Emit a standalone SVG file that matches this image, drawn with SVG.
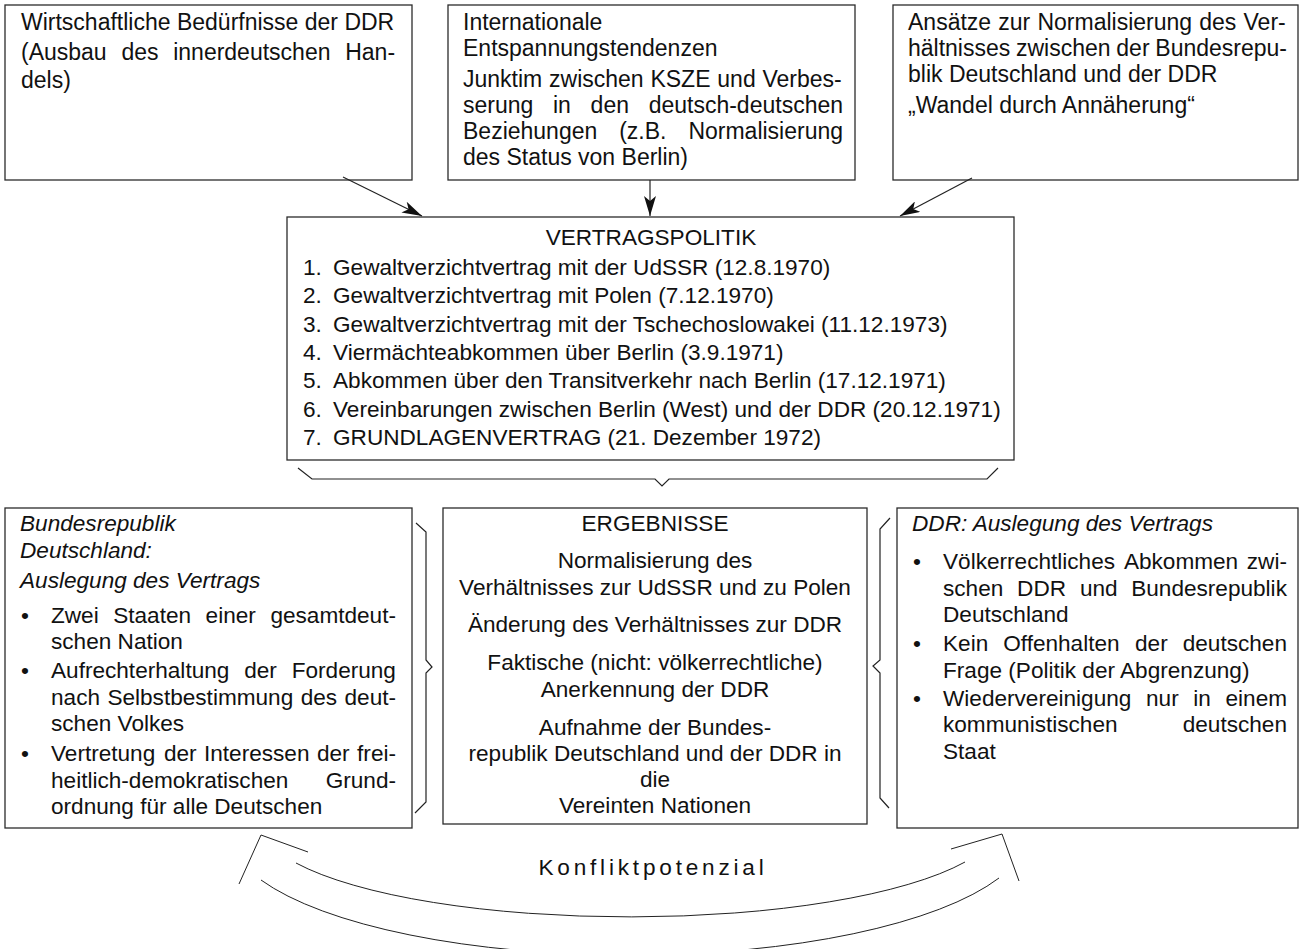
<svg xmlns="http://www.w3.org/2000/svg" width="1303" height="949" viewBox="0 0 1303 949">
<defs>
<style>
.box{fill:#fff;stroke:#2b2b2b;stroke-width:1.3}
.t{font-family:"Liberation Sans",Arial,Helvetica,sans-serif;font-size:22.6px;fill:#111}
.tt{font-size:23px}
.i{font-style:italic}
.c{text-anchor:middle}
.ln{fill:none;stroke:#222;stroke-width:1.2}
.th{fill:none;stroke:#222;stroke-width:1}
</style>
<marker id="ah" viewBox="0 0 20 12" refX="20" refY="6" markerWidth="20" markerHeight="12" markerUnits="userSpaceOnUse" orient="auto">
<path d="M0,0 L20,6 L0,12 L5,6 Z" fill="#111"/>
</marker>
</defs>
<rect width="1303" height="949" fill="#fff"/>

<g id="n-top-1">
<rect class="box" x="5" y="5" width="407" height="175"/>
<text class="t tt" x="21" y="30">Wirtschaftliche Bedürfnisse der DDR</text>
<text class="t tt" y="60"><tspan x="21">(Ausbau</tspan><tspan x="121.4">des</tspan><tspan x="173.2">innerdeutschen</tspan><tspan x="345.2">Han-</tspan></text>
<text class="t tt" x="21" y="88">dels)</text>
</g>

<g id="n-top-2">
<rect class="box" x="448" y="5" width="407" height="175"/>
<text class="t tt" x="463" y="30">Internationale</text>
<text class="t tt" x="463" y="56">Entspannungstendenzen</text>
<text class="t tt" y="87"><tspan x="463">Junktim</tspan><tspan x="549.05">zwischen</tspan><tspan x="650.44">KSZE</tspan><tspan x="717.33">und</tspan><tspan x="762.5">Verbes-</tspan></text>
<text class="t tt" y="113"><tspan x="463">serung</tspan><tspan x="553.01">in</tspan><tspan x="590.6">den</tspan><tspan x="648.66">deutsch-deutschen</tspan></text>
<text class="t tt" y="139"><tspan x="463">Beziehungen</tspan><tspan x="619.17">(z.B.</tspan><tspan x="688.38">Normalisierung</tspan></text>
<text class="t tt" x="463" y="165">des Status von Berlin)</text>
</g>

<g id="n-top-3">
<rect class="box" x="893" y="5" width="405" height="175"/>
<text class="t tt" y="30"><tspan x="908">Ansätze</tspan><tspan x="998.3">zur</tspan><tspan x="1037.45">Normalisierung</tspan><tspan x="1199.28">des</tspan><tspan x="1243.56">Ver-</tspan></text>
<text class="t tt" y="56"><tspan x="908">hältnisses</tspan><tspan x="1016.01">zwischen</tspan><tspan x="1116.34">der</tspan><tspan x="1155.33">Bundesrepu-</tspan></text>
<text class="t tt" x="908" y="82">blik Deutschland und der DDR</text>
<text class="t tt" x="908" y="113">„Wandel durch Annäherung“</text>
</g>

<g id="n-vertragspolitik">
<rect class="box" x="287" y="217" width="727" height="243"/>
<text class="t c" x="651" y="245">VERTRAGSPOLITIK</text>
<text class="t" y="275"><tspan x="303">1.</tspan><tspan x="333">Gewaltverzichtvertrag mit der UdSSR (12.8.1970)</tspan></text>
<text class="t" y="303"><tspan x="303">2.</tspan><tspan x="333">Gewaltverzichtvertrag mit Polen (7.12.1970)</tspan></text>
<text class="t" y="331.5"><tspan x="303">3.</tspan><tspan x="333">Gewaltverzichtvertrag mit der Tschechoslowakei (11.12.1973)</tspan></text>
<text class="t" y="360"><tspan x="303">4.</tspan><tspan x="333">Viermächteabkommen über Berlin (3.9.1971)</tspan></text>
<text class="t" y="388"><tspan x="303">5.</tspan><tspan x="333">Abkommen über den Transitverkehr nach Berlin (17.12.1971)</tspan></text>
<text class="t" y="416.5"><tspan x="303">6.</tspan><tspan x="333">Vereinbarungen zwischen Berlin (West) und der DDR (20.12.1971)</tspan></text>
<text class="t" y="445"><tspan x="303">7.</tspan><tspan x="333">GRUNDLAGENVERTRAG (21. Dezember 1972)</tspan></text>
</g>

<g id="n-brd">
<rect class="box" x="5" y="508" width="407" height="320"/>
<text class="t i" x="20" y="531">Bundesrepublik</text>
<text class="t i" x="20" y="558">Deutschland:</text>
<text class="t i" x="20" y="588">Auslegung des Vertrags</text>
<text class="t" x="21" y="623">•</text>
<text class="t" y="623"><tspan x="51">Zwei</tspan><tspan x="113.2">Staaten</tspan><tspan x="205.6">einer</tspan><tspan x="270.4">gesamtdeut-</tspan></text>
<text class="t" x="51" y="649">schen Nation</text>
<text class="t" x="21" y="678">•</text>
<text class="t" y="678"><tspan x="51">Aufrechterhaltung</tspan><tspan x="244.2">der</tspan><tspan x="291.7">Forderung</tspan></text>
<text class="t" y="705"><tspan x="51">nach</tspan><tspan x="107.4">Selbstbestimmung</tspan><tspan x="300.7">des</tspan><tspan x="344.5">deut-</tspan></text>
<text class="t" x="51" y="731">schen Volkes</text>
<text class="t" x="21" y="761">•</text>
<text class="t" y="761"><tspan x="51">Vertretung</tspan><tspan x="163.9">der</tspan><tspan x="204">Interessen</tspan><tspan x="316.9">der</tspan><tspan x="357.1">frei-</tspan></text>
<text class="t" y="787.5"><tspan x="51">heitlich-demokratischen</tspan><tspan x="325.7">Grund-</tspan></text>
<text class="t" x="51" y="814">ordnung für alle Deutschen</text>
</g>

<g id="n-ergebnisse">
<rect class="box" x="443" y="508" width="424" height="316"/>
<text class="t c" x="655" y="531">ERGEBNISSE</text>
<text class="t c" x="655" y="568">Normalisierung des</text>
<text class="t c" x="655" y="595">Verhältnisses zur UdSSR und zu Polen</text>
<text class="t c" x="655" y="632">Änderung des Verhältnisses zur DDR</text>
<text class="t c" x="655" y="670">Faktische (nicht: völkerrechtliche)</text>
<text class="t c" x="655" y="697">Anerkennung der DDR</text>
<text class="t c" x="655" y="735">Aufnahme der Bundes-</text>
<text class="t c" x="655" y="761">republik Deutschland und der DDR in</text>
<text class="t c" x="655" y="787">die</text>
<text class="t c" x="655" y="813">Vereinten Nationen</text>
</g>

<g id="n-ddr">
<rect class="box" x="897" y="508" width="401" height="320"/>
<text class="t i" x="912" y="531">DDR: Auslegung des Vertrags</text>
<text class="t" x="913" y="569">•</text>
<text class="t" y="569"><tspan x="943">Völkerrechtliches</tspan><tspan x="1123.9">Abkommen</tspan><tspan x="1246.8">zwi-</tspan></text>
<text class="t" y="595.5"><tspan x="943">schen</tspan><tspan x="1017.1">DDR</tspan><tspan x="1079.9">und</tspan><tspan x="1131.2">Bundesrepublik</tspan></text>
<text class="t" x="943" y="622">Deutschland</text>
<text class="t" x="913" y="651">•</text>
<text class="t" y="651"><tspan x="943">Kein</tspan><tspan x="1003.2">Offenhalten</tspan><tspan x="1135">der</tspan><tspan x="1182.7">deutschen</tspan></text>
<text class="t" x="943" y="677.5">Frage (Politik der Abgrenzung)</text>
<text class="t" x="913" y="706">•</text>
<text class="t" y="706"><tspan x="943">Wiedervereinigung</tspan><tspan x="1146">nur</tspan><tspan x="1193.3">in</tspan><tspan x="1225.5">einem</tspan></text>
<text class="t" y="732"><tspan x="943">kommunistischen</tspan><tspan x="1182.7">deutschen</tspan></text>
<text class="t" x="943" y="758.5">Staat</text>
</g>

<g id="connectors">
<path class="ln" d="M343,177 L422,216" marker-end="url(#ah)"/>
<path class="ln" d="M650,180 L650,216" marker-end="url(#ah)"/>
<path class="ln" d="M972,178 L900,216" marker-end="url(#ah)"/>
<path class="ln" d="M298,468 L312,479 L655,479 L662,486 L669,479 L987,479 L998,468"/>
<path class="ln" d="M416,523 L426,532 L426,660 L432,667 L426,673 L426,802 L415,813"/>
<path class="ln" d="M890,518 L880,529 L880,660 L873,666 L880,673 L880,798 L889,808"/>
<g id="konflikt-arrow">
<path class="th" d="M308,852 L261,835 L239,884"/>
<path class="th" d="M951,849 L1002,834 L1019,881"/>
<path class="th" d="M296,863 A370,95 0 0 0 965,862"/>
<path class="th" d="M261,880 A400,124 0 0 0 999,878"/>
</g>
</g>

<g id="label-konflikt">
<text class="t c" x="653" y="875" style="letter-spacing:3.8px">Konfliktpotenzial</text>
</g>
</svg>
